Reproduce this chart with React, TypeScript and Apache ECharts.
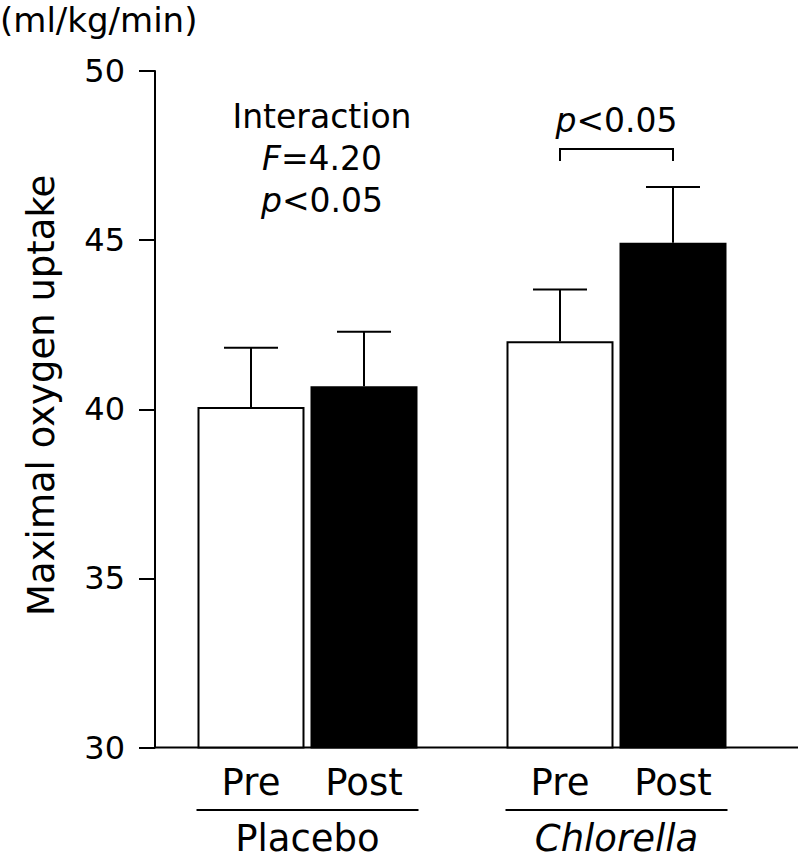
import React, { useEffect, useRef } from 'react';
import * as echarts from 'echarts';

const groups = ['Placebo', 'Chlorella'];
const phases = ['Pre', 'Post'];
const preMeans = [40.07, 42.01];
const postMeans = [40.68, 44.92];
const preErr = [1.75, 1.53];
const postErr = [1.61, 1.65];
const yMin = 30;
const yMax = 50;
const yStep = 5;

const FONT = '"DejaVu Sans", Verdana, sans-serif';
const BIG = 37;
const ANN = 33;
const BAR_W = 107;
const BAR_GAP = 6;
const HALF = (BAR_W + BAR_GAP) / 2;
const CAP = 27;

function txt(text: string, x: number, y: number, size: number, align: string, rich?: any) {
  return {
    type: 'text',
    silent: true,
    style: {
      text,
      x,
      y,
      fill: '#000',
      fontSize: size,
      fontFamily: FONT,
      align,
      textAlign: align,
      verticalAlign: 'middle',
      textVerticalAlign: 'middle',
      rich,
    },
  };
}

export default function App() {
  const ref = useRef<HTMLDivElement>(null);
  useEffect(() => {
    document.body.style.margin = '0';
    const chart = echarts.init(ref.current!, null, { renderer: 'svg' });
    const errSeries = (name: string, means: number[], errs: number[], shift: number) => ({
      type: 'custom',
      name: name + ' error',
      data: means.map((m, i) => [i, m, errs[i]]),
      encode: { x: 0, y: 1 },
      z: 1,
      renderItem: (_p: any, api: any) => {
        const c = api.value(0);
        const m = api.value(1);
        const e = api.value(2);
        const base = api.coord([c, m]);
        const top = api.coord([c, m + e]);
        const x = base[0] + shift;
        return {
          type: 'group',
          children: [
            { type: 'line', shape: { x1: x, y1: base[1], x2: x, y2: top[1] }, style: { stroke: '#000', lineWidth: 2 } },
            { type: 'line', shape: { x1: x - CAP, y1: top[1], x2: x + CAP, y2: top[1] }, style: { stroke: '#000', lineWidth: 2 } },
          ],
        };
      },
    });
    const barLabel = {
      show: true,
      position: 'bottom',
      distance: 15,
      formatter: '{a}',
      color: '#000',
      fontSize: BIG,
      fontFamily: FONT,
    };
    chart.setOption({
      animation: false,
      grid: { left: 153, right: 32, top: 71, bottom: 110.5 },
      xAxis: {
        type: 'category',
        data: groups,
        axisLine: { show: false },
        axisTick: { show: false },
        axisLabel: {
          margin: 72,
          color: '#000',
          fontSize: BIG,
          fontFamily: FONT,
          formatter: (v: string) => (v === 'Chlorella' ? '{i|' + v + '}' : '{n|' + v + '}'),
          rich: {
            n: { fontSize: BIG, fontFamily: FONT, color: '#000' },
            i: { fontSize: BIG, fontFamily: FONT, color: '#000', fontStyle: 'italic' },
          },
        },
      },
      yAxis: {
        type: 'value',
        min: yMin,
        max: yMax,
        interval: yStep,
        offset: -2,
        axisLine: { show: true, lineStyle: { color: '#000', width: 2 } },
        axisTick: { show: true, length: 16, lineStyle: { color: '#000', width: 2 } },
        axisLabel: { margin: 30, color: '#000', fontSize: 32, fontFamily: FONT },
        splitLine: { show: false },
        name: 'Maximal oxygen uptake',
        nameLocation: 'middle',
        nameRotate: 90,
        nameGap: 95,
        nameTextStyle: { color: '#000', fontSize: BIG, fontFamily: FONT, padding: [0, 0, 0, 28] },
      },
      series: [
        {
          type: 'bar',
          name: phases[0],
          data: preMeans,
          barWidth: BAR_W,
          barGap: ((BAR_GAP / BAR_W) * 100).toFixed(2) + '%',
          itemStyle: { color: '#fff', borderColor: '#000', borderWidth: 2 },
          label: barLabel,
          z: 2,
        },
        {
          type: 'bar',
          name: phases[1],
          data: postMeans,
          barWidth: BAR_W,
          itemStyle: { color: '#000', borderColor: '#000', borderWidth: 2 },
          label: barLabel,
          z: 2,
        },
        errSeries(phases[0], preMeans, preErr, -HALF),
        errSeries(phases[1], postMeans, postErr, HALF),
      ],
    });

    const baseY = chart.convertToPixel({ yAxisIndex: 0 }, yMin) as number;
    const cx = groups.map((_, i) => chart.convertToPixel({ xAxisIndex: 0 }, i) as number);
    const axisX = 155;
    const lineStyle = { stroke: '#000', lineWidth: 2 };
    const italic = { i: { fontStyle: 'italic', fontSize: ANN, fontFamily: FONT } };
    const graphic: any[] = [
      { type: 'line', silent: true, shape: { x1: axisX, y1: baseY, x2: 798, y2: baseY }, style: lineStyle },
      ...cx.map((c) => ({
        type: 'line',
        silent: true,
        shape: { x1: c - HALF - BAR_W / 2 - 1, y1: 810, x2: c + HALF + BAR_W / 2 + 1, y2: 810 },
        style: lineStyle,
      })),
      {
        type: 'polyline',
        silent: true,
        shape: {
          points: [
            [cx[1] - HALF, 161],
            [cx[1] - HALF, 149],
            [cx[1] + HALF, 149],
            [cx[1] + HALF, 161],
          ],
        },
        style: { stroke: '#000', lineWidth: 2, fill: 'none' },
      },
      txt('{i|p}<0.05', cx[1], 120, ANN, 'center', italic),
      txt('Interaction', 322, 116, ANN, 'center'),
      txt('{i|F}=4.20', 322, 158.5, ANN, 'center', italic),
      txt('{i|p}<0.05', 322, 200.5, ANN, 'center', italic),
      txt('(ml/kg/min)', 0, 20, 34, 'left'),
    ];
    chart.setOption({ graphic });
    return () => chart.dispose();
  }, []);
  return <div ref={ref} style={{ width: 803, height: 858 }} />;
}
